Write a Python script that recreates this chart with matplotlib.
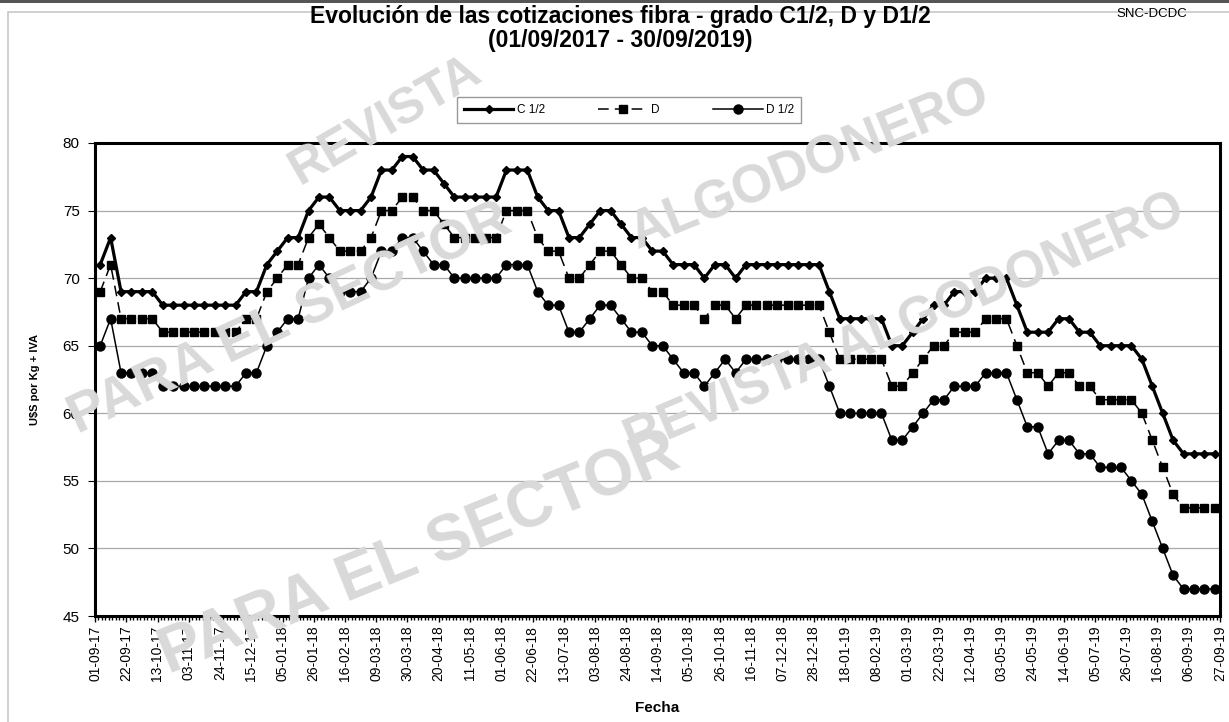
import numpy as np
import matplotlib.pyplot as plt
from matplotlib.patches import Rectangle

# Cotizaciones semanales (U$S por Kg + IVA)
c12 = [71, 73, 69, 69, 69, 69, 68, 68, 68, 68, 68, 68, 68, 68, 69, 69, 71, 72, 73, 73,
       75, 76, 76, 75, 75, 75, 76, 78, 78, 79, 79, 78, 78, 77, 76, 76, 76, 76, 76, 78,
       78, 78, 76, 75, 75, 73, 73, 74, 75, 75, 74, 73, 73, 72, 72, 71, 71, 71, 70, 71,
       71, 70, 71, 71, 71, 71, 71, 71, 71, 71, 69, 67, 67, 67, 67, 67, 65, 65, 66, 67,
       68, 68, 69, 69, 69, 70, 70, 70, 68, 66, 66, 66, 67, 67, 66, 66, 65, 65, 65, 65,
       64, 62, 60, 58, 57, 57, 57, 57]
d = [69, 71, 67, 67, 67, 67, 66, 66, 66, 66, 66, 66, 66, 66, 67, 67, 69, 70, 71, 71,
     73, 74, 73, 72, 72, 72, 73, 75, 75, 76, 76, 75, 75, 74, 73, 73, 73, 73, 73, 75,
     75, 75, 73, 72, 72, 70, 70, 71, 72, 72, 71, 70, 70, 69, 69, 68, 68, 68, 67, 68,
     68, 67, 68, 68, 68, 68, 68, 68, 68, 68, 66, 64, 64, 64, 64, 64, 62, 62, 63, 64,
     65, 65, 66, 66, 66, 67, 67, 67, 65, 63, 63, 62, 63, 63, 62, 62, 61, 61, 61, 61,
     60, 58, 56, 54, 53, 53, 53, 53]
d12 = [65, 67, 63, 63, 63, 63, 62, 62, 62, 62, 62, 62, 62, 62, 63, 63, 65, 66, 67, 67,
       70, 71, 70, 69, 69, 69, 70, 72, 72, 73, 73, 72, 71, 71, 70, 70, 70, 70, 70, 71,
       71, 71, 69, 68, 68, 66, 66, 67, 68, 68, 67, 66, 66, 65, 65, 64, 63, 63, 62, 63,
       64, 63, 64, 64, 64, 64, 64, 64, 64, 64, 62, 60, 60, 60, 60, 60, 58, 58, 59, 60,
       61, 61, 62, 62, 62, 63, 63, 63, 61, 59, 59, 57, 58, 58, 57, 57, 56, 56, 56, 55,
       54, 52, 50, 48, 47, 47, 47, 47]

fechas = ["01-09-17", "22-09-17", "13-10-17", "03-11-17", "24-11-17", "15-12-17",
          "05-01-18", "26-01-18", "16-02-18", "09-03-18", "30-03-18", "20-04-18",
          "11-05-18", "01-06-18", "22-06-18", "13-07-18", "03-08-18", "24-08-18",
          "14-09-18", "05-10-18", "26-10-18", "16-11-18", "07-12-18", "28-12-18",
          "18-01-19", "08-02-19", "01-03-19", "22-03-19", "12-04-19", "03-05-19",
          "24-05-19", "14-06-19", "05-07-19", "26-07-19", "16-08-19", "06-09-19",
          "27-09-19"]

plt.rcParams['font.family'] = ['Liberation Sans', 'DejaVu Sans']

W, H = 1229, 722
fig = plt.figure(figsize=(W / 100, H / 100), dpi=100)
ax = fig.add_axes([95 / W, 1 - 616 / H, (1220 - 95) / W, (616 - 143) / H])

# marco del grafico
fig.patches.append(Rectangle((8 / W, -0.01), 1.0, 1 - 12 / H + 0.01, transform=fig.transFigure,
                             fill=False, edgecolor='#c8c8c8', lw=1.2, zorder=0))
fig.patches.append(Rectangle((0, 1 - 3 / H), 1, 3 / H, transform=fig.transFigure,
                             facecolor='#555555', edgecolor='none', zorder=0))

# marcas de agua (texto gris claro)
wm = dict(color='#d9d9d9', fontweight='bold', ha='center', va='center', zorder=0.5)
fig.text(385 / W, 1 - 120 / H, "REVISTA", rotation=30, fontsize=36, **wm)
fig.text(810 / W, 1 - 165 / H, "ALGODONERO", rotation=22, fontsize=38, **wm)
fig.text(290 / W, 1 - 320 / H, "PARA EL SECTOR", rotation=25, fontsize=40, **wm)
fig.text(905 / W, 1 - 325 / H, "REVISTA ALGODONERO", rotation=23, fontsize=37, **wm)
fig.text(420 / W, 1 - 555 / H, "PARA EL SECTOR", rotation=22, fontsize=46, **wm)

x = np.arange(len(c12))
ax.plot(x, c12, color='black', lw=2.3, marker='D', ms=4.5, label='C 1/2', zorder=5)
ax.plot(x, d, color='black', lw=1.1, ls=(0, (7, 4)), marker='s', ms=5.5, label='D', zorder=4)
ax.plot(x, d12, color='black', lw=1.1, marker='o', ms=6.5, label='D 1/2', zorder=3)

ax.set_xlim(-0.5, len(x) - 0.5)
ax.set_ylim(45, 80)
ax.set_yticks(range(45, 81, 5))
ax.yaxis.grid(True, color='#a8a8a8', lw=0.9)
ax.set_axisbelow(True)
ax.patch.set_alpha(0)

ax.set_xticks(np.linspace(-0.5, len(x) - 0.5, len(fechas)))
ax.set_xticklabels(fechas, rotation=90, fontsize=10)
ax.set_xticks(np.arange(-0.5, len(x) - 0.4, 1 / 3), minor=True)
ax.tick_params(axis='x', which='major', length=4, width=1, pad=3)
ax.tick_params(axis='x', which='minor', length=3, width=1)
ax.tick_params(axis='y', length=5, labelsize=11, pad=6)
for s in ax.spines.values():
    s.set_linewidth(2.2)

ax.set_ylabel("U$S por Kg + IVA", fontsize=8, fontweight='bold', labelpad=16)
ax.set_xlabel("Fecha", fontsize=11, fontweight='bold', labelpad=14)

fig.text(0.505, 1 - 16 / H, "Evolución de las cotizaciones fibra - grado C1/2, D y D1/2",
         ha='center', va='center', fontsize=16.5, fontweight='bold')
fig.text(0.505, 1 - 41 / H, "(01/09/2017 - 30/09/2019)",
         ha='center', va='center', fontsize=16.5, fontweight='bold')
fig.text(1152 / W, 1 - 14 / H, "SNC-DCDC", ha='center', va='center', fontsize=9.5)

leg = fig.legend(loc='center', bbox_to_anchor=(629 / W, 1 - 110 / H), ncol=3,
                 fontsize=8.5, frameon=True, fancybox=False, edgecolor='#808080',
                 handlelength=4.2, handletextpad=0.3, columnspacing=4.5, borderpad=0.6)
leg.get_frame().set_linewidth(1)

plt.savefig("out.png", dpi=100)
